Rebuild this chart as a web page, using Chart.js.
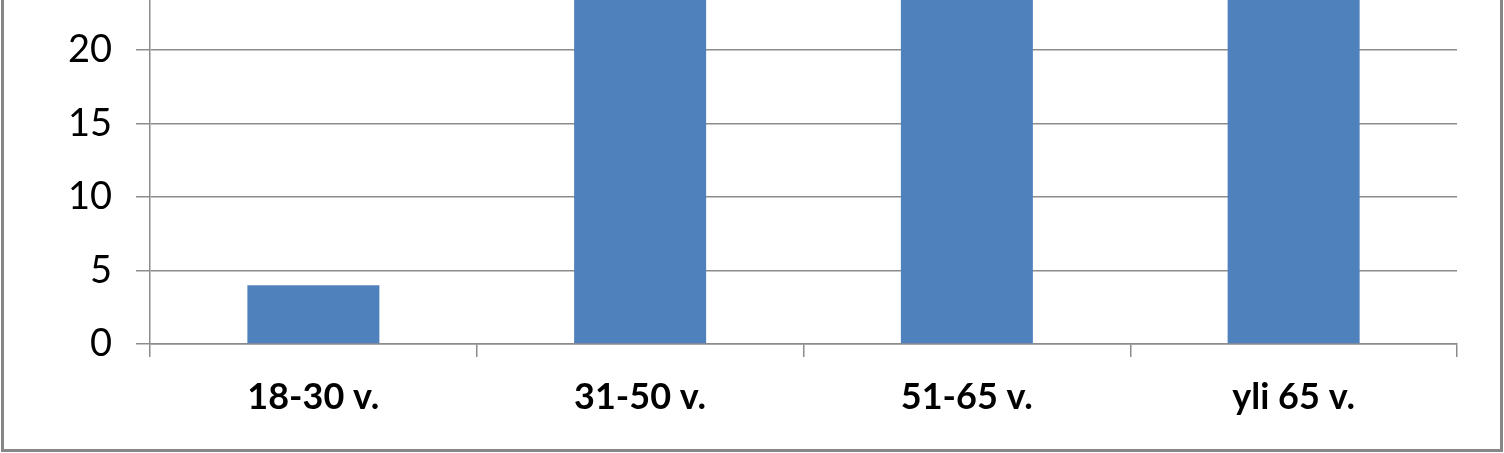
<!DOCTYPE html>
<html>
<head>
<meta charset="utf-8">
<script src="https://cdn.jsdelivr.net/npm/chart.js@4"></script>
<style>
  html, body { margin: 0; padding: 0; background: #fff; overflow: hidden; }
  #wrap { position: relative; width: 1504px; height: 453px; }
  #frame {
    position: absolute; left: 1px; right: 1px; bottom: 1px; top: 0;
    border: 3px solid #878787; border-top: none; pointer-events: none;
  }
</style>
</head>
<body>
<div id="wrap">
  <canvas id="chart" width="1504" height="453"></canvas>
  <div id="frame"></div>
</div>
<script>
// age groups and respondents (upper three bars are cut off in the picture)
const ikaryhmat = ["18-30 v.", "31-50 v.", "51-65 v.", "yli 65 v."];
const vastaajat = [4, 30, 32, 28];
const yTicks = [0, 5, 10, 15, 20];

const gridColor = "#8c8c8c";

const ctx = document.getElementById("chart").getContext("2d");
new Chart(ctx, {
  type: "bar",
  data: {
    labels: ikaryhmat,
    datasets: [
      {
        data: vastaajat,
        backgroundColor: "#4f81bd",
        borderWidth: 0,
        barPercentage: 0.404,
        categoryPercentage: 1,
      },
    ],
  },
  options: {
    responsive: false,
    animation: false,
    devicePixelRatio: 1,
    layout: { padding: { top: 0, right: 47, left: 0, bottom: 0 } },
    plugins: { legend: { display: false }, tooltip: { enabled: false } },
    scales: {
      x: {
        grid: {
          offset: true,
          drawOnChartArea: false,
          color: gridColor,
          lineWidth: 1.5,
          tickLength: 13,
        },
        border: { color: gridColor, width: 1.5 },
        ticks: {
          color: "#000",
          padding: 19,
          font: { family: "Lato", size: 36, weight: "bold" },
        },
        afterFit: function (scale) {
          scale.height = 109;
          scale.paddingLeft = 0;
          scale.paddingRight = 0;
        },
      },
      y: {
        min: 0,
        max: 23.4,
        grid: { color: gridColor, lineWidth: 1.5, tickLength: 14 },
        border: { color: gridColor, width: 1.5 },
        ticks: {
          stepSize: 5,
          color: "#000",
          padding: 24,
          font: { family: "Lato", size: 38 },
        },
        afterBuildTicks: function (scale) {
          scale.ticks = yTicks.map((v) => ({ value: v }));
        },
        afterFit: function (scale) {
          scale.width = 150;
          scale.paddingTop = 0;
          scale.paddingBottom = 0;
        },
      },
    },
  },
});
</script>
</body>
</html>
